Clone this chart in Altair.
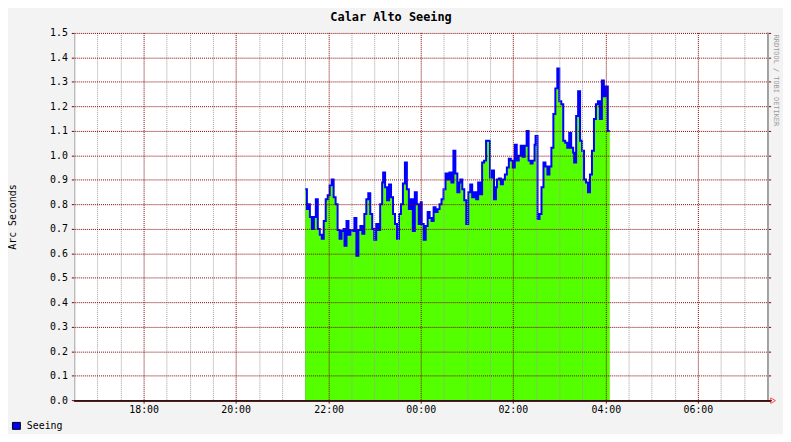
import altair as alt
import pandas as pd

TITLE = "Calar Alto Seeing"
Y_TITLE = "Arc Seconds"
SERIES = "Seeing"
WATERMARK = "RRDTOOL / TOBI OETIKER"

# time window of the graph and of the measurements
X_START, X_END = "16:30", "07:30"
DATA_START, DATA_END = "21:29", "04:05"
MAJOR_LABELS = ["18:00", "20:00", "22:00", "00:00", "02:00", "04:00", "06:00"]
Y_TICKS = [0.0, 0.1, 0.2, 0.3, 0.4, 0.5, 0.6, 0.7, 0.8, 0.9, 1.0, 1.1, 1.2, 1.3, 1.4, 1.5]

# seeing values (arc seconds), evenly sampled between DATA_START and DATA_END
seeing = [
    0.86, 0.78, 0.80, 0.75, 0.70, 0.75, 0.82, 0.70, 0.675, 0.66,
    0.73, 0.82, 0.835, 0.877, 0.90, 0.83, 0.80, 0.695, 0.66, 0.69,
    0.70, 0.63, 0.73, 0.675, 0.695, 0.69, 0.743, 0.59, 0.695, 0.71,
    0.68, 0.76, 0.82, 0.845, 0.76, 0.70, 0.655, 0.72, 0.695, 0.80,
    0.89, 0.93, 0.87, 0.815, 0.88, 0.83, 0.76, 0.72, 0.66, 0.76,
    0.80, 0.885, 0.97, 0.86, 0.78, 0.82, 0.69, 0.85, 0.80, 0.72,
    0.81, 0.72, 0.655, 0.71, 0.77, 0.745, 0.73, 0.79, 0.77, 0.78,
    0.80, 0.82, 0.86, 0.925, 0.90, 0.93, 0.89, 1.02, 0.925, 0.85,
    0.89, 0.90, 0.86, 0.815, 0.72, 0.85, 0.88, 0.83, 0.85, 0.82,
    0.89, 0.84, 0.97, 0.98,
    1.06, 1.06, 0.91, 0.94, 0.82, 0.87, 0.90, 0.905, 0.88, 0.90,
    0.92, 0.95, 0.985, 0.98, 0.95, 1.045, 0.98, 1.0, 1.04, 0.995,
    1.04, 1.10, 0.98, 0.965, 0.98, 1.045,
    1.08, 0.74, 0.76, 0.87, 0.97, 0.955, 0.92, 0.955, 1.03, 1.17,
    1.275, 1.355, 1.22, 1.21, 1.06, 1.05, 1.03, 1.09, 1.03, 1.01,
    0.97, 1.16, 1.26, 1.06, 1.02, 0.90, 0.89, 0.85, 0.92, 1.02,
    1.15, 1.21, 1.22, 1.15, 1.305, 1.24, 1.28, 1.10,
]


def hours(s):
    h, m = map(int, s.split(":"))
    v = h + m / 60.0
    return v + 24 if v < 12 else v


x0, x1 = hours(X_START), hours(X_END)
t0, t1 = hours(DATA_START), hours(DATA_END)
step = (t1 - t0) / len(seeing)

rows = []
for i, v in enumerate(seeing):
    rows.append({"t": t0 + i * step, "v": v, "o": 2 * i})
    rows.append({"t": t0 + (i + 1) * step, "v": v, "o": 2 * i + 1})
df = pd.DataFrame(rows)

major = [hours(s) for s in MAJOR_LABELS]
minor = []
h = x0 + 0.5
while h < x1:
    if all(abs(h - m) > 1e-6 for m in major):
        minor.append(h)
    h += 0.5

df_major = pd.DataFrame({"t": major})
df_minor = pd.DataFrame({"t": minor})
df_y = pd.DataFrame({"v": [y for y in Y_TICKS if y > 0]})

GREEN = "#54ff00"
BLUE = "#0000ff"
MGRID = "#800000"
GRID = "#a0a0a0"
FONT = "DejaVu Sans Mono"
W, H = 700, 371

xscale = alt.Scale(domain=[x0, x1], nice=False, zero=False, round=True)
yscale = alt.Scale(domain=[0, 1.5], nice=False, round=True)

label_expr = "((datum.value % 24) < 10 ? '0' : '') + (datum.value % 24) + ':00'"
x_axis = alt.Axis(values=major, labelExpr=label_expr, grid=False, domain=False,
                  tickColor=MGRID, tickSize=3, labelPadding=1,
                  labelFont=FONT, labelFontSize=10, labelColor="black")
y_axis = alt.Axis(values=Y_TICKS, format=".1f", grid=False, domain=True,
                  domainColor=GRID, tickColor=MGRID, tickSize=3, labelPadding=4,
                  labelFont=FONT, labelFontSize=10, labelColor="black")


def X(field):
    return alt.X(field, scale=xscale, title=None, axis=x_axis)


def Y(field):
    return alt.Y(field, scale=yscale, title=None, axis=y_axis)


area = alt.Chart(df).mark_area(color=GREEN, interpolate="linear").encode(
    x=alt.X("t:Q", scale=xscale, title=None, axis=x_axis, sort=None),
    y=alt.Y("v:Q", scale=yscale, title=None, axis=y_axis, stack=None),
)
line = alt.Chart(df).mark_line(color=BLUE, strokeWidth=2, interpolate="linear").encode(
    x=X("t:Q"), y=Y("v:Q"), order="o:Q",
)

minor_grid = alt.Chart(df_minor).mark_rule(
    color=GRID, strokeDash=[1, 1], strokeWidth=1, xOffset=0.5
).encode(x=X("t:Q"))
major_grid = alt.Chart(df_major).mark_rule(
    color=MGRID, strokeDash=[1, 1], strokeWidth=1, xOffset=0.5
).encode(x=X("t:Q"))
h_grid = alt.Chart(df_y).mark_rule(
    color=MGRID, strokeDash=[1, 1], strokeWidth=1, yOffset=0.5
).encode(y=Y("v:Q"))
right_ticks = alt.Chart(df_y).mark_rule(color=MGRID, strokeWidth=1, yOffset=0.5).encode(
    y=Y("v:Q"), x=alt.value(W), x2=alt.value(W + 4)
)
right_edge = alt.Chart(df_y).mark_rule(color=GRID, strokeWidth=1).encode(
    x=alt.value(W + 0.5), y=alt.value(0), y2=alt.value(H)
)
x_axis_line = alt.Chart(df_y).mark_rule(color="#3a1010", strokeWidth=1).encode(
    x=alt.value(0), x2=alt.value(W + 4), y=alt.value(H + 0.5)
)
arrow = alt.Chart(pd.DataFrame({"a": [0]})).mark_point(
    shape="triangle-right", filled=False, color="#ff0000", size=30, strokeWidth=1
).encode(x=alt.value(W + 6), y=alt.value(H + 0.5))


def text_layer(txt, x, y, **kw):
    return alt.Chart(pd.DataFrame({"label": [txt]})).mark_text(font=FONT, **kw).encode(
        text="label:N", x=alt.value(x), y=alt.value(y)
    )


title = text_layer(TITLE, 320, -16.5, fontSize=12, fontWeight="bold", align="center",
                   baseline="middle", color="black")
ytitle = text_layer(Y_TITLE, -62, 186, fontSize=10, angle=270, align="center",
                    baseline="middle", color="black")
watermark = text_layer(WATERMARK, 708.5, 48, fontSize=7, angle=90, align="center",
                       baseline="middle", color="#999999")
legend_box = alt.Chart(pd.DataFrame({"a": [0]})).mark_rect(
    fill=BLUE, stroke="black", strokeWidth=1
).encode(x=alt.value(-62.5), x2=alt.value(-54.5), y=alt.value(393.5), y2=alt.value(400.5))
legend_text = text_layer(SERIES, -48, 397, fontSize=10, align="left", baseline="middle",
                         color="black")

chart = alt.layer(
    area, line, minor_grid, major_grid, h_grid, right_ticks, right_edge, x_axis_line, arrow,
    title, ytitle, watermark, legend_box, legend_text,
).properties(
    width=W, height=H,
    padding={"left": 67, "top": 23, "right": 16, "bottom": 32},
    autosize=alt.AutoSizeParams(type="none"),
    background="#f3f3f3",
).configure_view(stroke=None, fill="white")

chart.save("out.html", embed_options={"renderer": "svg", "actions": False})
